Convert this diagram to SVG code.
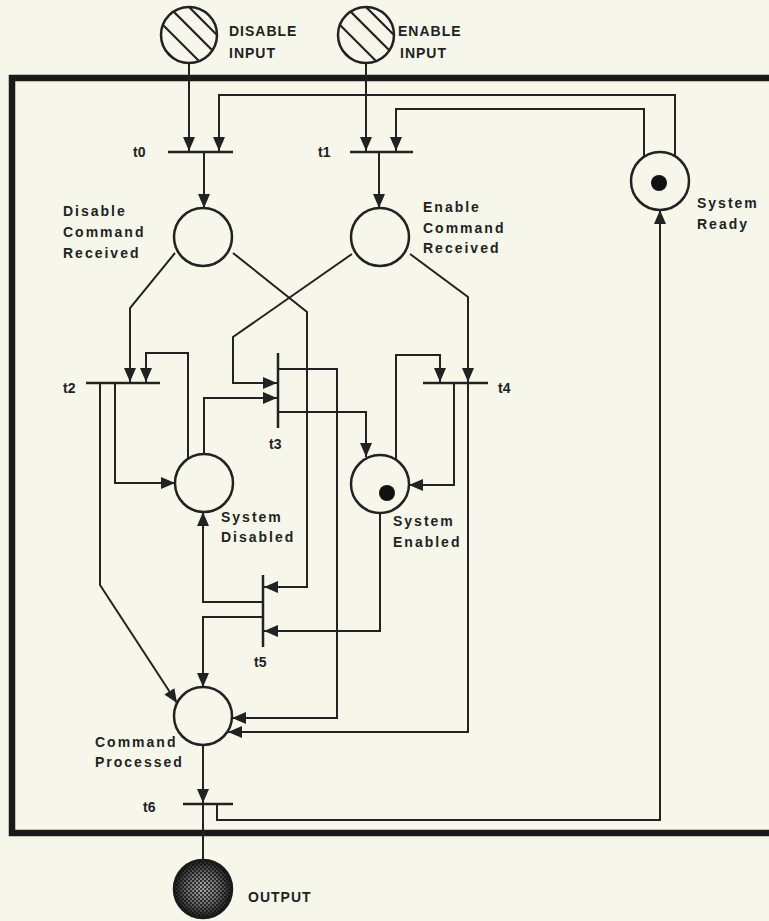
<svg xmlns="http://www.w3.org/2000/svg" width="769" height="921" viewBox="0 0 769 921">
<style>
.conn{fill:none;stroke:#222;stroke-width:2;stroke-linejoin:miter}
.place{fill:none;stroke:#222;stroke-width:2.5}
.bar{stroke:#222;stroke-width:2.5;fill:none}
.hatch{stroke:#222;stroke-width:2.2}
.lbl{font-family:"Liberation Sans",Arial,sans-serif;font-weight:bold;font-size:14px;letter-spacing:2px;fill:#222}
.cap{font-family:"Liberation Sans",Arial,sans-serif;font-weight:bold;font-size:14px;letter-spacing:1px;fill:#222}
.tl{font-family:"Liberation Sans",Arial,sans-serif;font-weight:bold;font-size:14px;fill:#222}
.token{fill:#111}
</style>
<defs>
<marker id="arr" viewBox="0 0 14 12" refX="14" refY="6" markerWidth="14" markerHeight="12" markerUnits="userSpaceOnUse" orient="auto">
<path d="M0,0 L14,6 L0,12 Z" fill="#222"/>
</marker>
<clipPath id="clipDI"><circle cx="189" cy="35" r="28"/></clipPath>
<clipPath id="clipEI"><circle cx="366" cy="35" r="28"/></clipPath>
<radialGradient id="outg" cx="0.5" cy="0.5" r="0.5">
<stop offset="0" stop-color="#b0b0b0"/>
<stop offset="0.55" stop-color="#707070"/>
<stop offset="1" stop-color="#1a1a1a"/>
</radialGradient>
<pattern id="stip" width="4" height="4" patternUnits="userSpaceOnUse">
<rect x="0" y="0" width="2" height="2" fill="#111" fill-opacity="0.75"/>
<rect x="2" y="2" width="2" height="2" fill="#111" fill-opacity="0.75"/>
<rect x="2" y="0" width="1" height="1" fill="#111" fill-opacity="0.4"/>
</pattern>
</defs>
<rect x="0" y="0" width="769" height="921" fill="#f6f7ea"/>

<!-- frame -->
<rect x="12" y="78" width="780" height="755" fill="none" stroke="#1a1a1a" stroke-width="6.5"/>

<g id="connectors">
<path class="conn" d="M189,63 V151" marker-end="url(#arr)"/>
<path class="conn" d="M366,63 V151" marker-end="url(#arr)"/>
<path class="conn" d="M675,156 V95 H219 V151" marker-end="url(#arr)"/>
<path class="conn" d="M644,157 V109 H396 V151" marker-end="url(#arr)"/>
<path class="conn" d="M204,152 V208" marker-end="url(#arr)"/>
<path class="conn" d="M379,152 V208" marker-end="url(#arr)"/>
<path class="conn" d="M175,253 L130,308 V382" marker-end="url(#arr)"/>
<path class="conn" d="M233,253 L307,312 V587 H264" marker-end="url(#arr)"/>
<path class="conn" d="M352,254 L233,337 V383 H277" marker-end="url(#arr)"/>
<path class="conn" d="M410,254 L468,297 V382" marker-end="url(#arr)"/>
<path class="conn" d="M188,459 V353 H146 V382" marker-end="url(#arr)"/>
<path class="conn" d="M204,454 V398 H277" marker-end="url(#arr)"/>
<path class="conn" d="M396,460 V355 H440 V382" marker-end="url(#arr)"/>
<path class="conn" d="M115,383 V483 H175" marker-end="url(#arr)"/>
<path class="conn" d="M100,383 V585 L177,703" marker-end="url(#arr)"/>
<path class="conn" d="M278,412 H366 V457" marker-end="url(#arr)"/>
<path class="conn" d="M278,369 H337 V718 H232" marker-end="url(#arr)"/>
<path class="conn" d="M454,383 V485 H409" marker-end="url(#arr)"/>
<path class="conn" d="M468,383 V732 H228" marker-end="url(#arr)"/>
<path class="conn" d="M263,602 H203 V512" marker-end="url(#arr)"/>
<path class="conn" d="M263,617 H203 V687" marker-end="url(#arr)"/>
<path class="conn" d="M380,513 V631 H264" marker-end="url(#arr)"/>
<path class="conn" d="M203,745 V803" marker-end="url(#arr)"/>
<path class="conn" d="M217,804 V820 H660 V210" marker-end="url(#arr)"/>
<path class="conn" d="M203,804 V860"/>
</g>

<g id="disable-input">
<circle cx="189" cy="35" r="28" fill="#f6f7ea" stroke="#222" stroke-width="2.5"/>
<g clip-path="url(#clipDI)">
<line class="hatch" x1="150" y1="12" x2="200" y2="62"/>
<line class="hatch" x1="160" y1="-2" x2="214" y2="52"/>
<line class="hatch" x1="140" y1="25" x2="186" y2="71"/>
<line class="hatch" x1="176" y1="-6" x2="226" y2="44"/>
</g>
<text class="cap" x="229" y="36">DISABLE</text>
<text class="cap" x="229" y="58">INPUT</text>
</g>

<g id="enable-input">
<circle cx="366" cy="35" r="28" fill="#f6f7ea" stroke="#222" stroke-width="2.5"/>
<g clip-path="url(#clipEI)">
<line class="hatch" x1="327" y1="12" x2="377" y2="62"/>
<line class="hatch" x1="337" y1="-2" x2="391" y2="52"/>
<line class="hatch" x1="317" y1="25" x2="363" y2="71"/>
<line class="hatch" x1="353" y1="-6" x2="403" y2="44"/>
</g>
<text class="cap" x="398" y="36">ENABLE</text>
<text class="cap" x="400" y="58">INPUT</text>
</g>

<g id="t0"><line class="bar" x1="168" y1="152" x2="233" y2="152"/><text class="tl" x="133" y="157">t0</text></g>
<g id="t1"><line class="bar" x1="350" y1="152" x2="413" y2="152"/><text class="tl" x="318" y="157">t1</text></g>
<g id="t2"><line class="bar" x1="86" y1="383" x2="160" y2="383"/><text class="tl" x="63" y="393">t2</text></g>
<g id="t3"><line class="bar" x1="278" y1="353" x2="278" y2="428"/><text class="tl" x="269" y="449">t3</text></g>
<g id="t4"><line class="bar" x1="423" y1="383" x2="488" y2="383"/><text class="tl" x="498" y="393">t4</text></g>
<g id="t5"><line class="bar" x1="263" y1="575" x2="263" y2="647"/><text class="tl" x="254" y="667">t5</text></g>
<g id="t6"><line class="bar" x1="183" y1="804" x2="233" y2="804"/><text class="tl" x="143" y="812">t6</text></g>

<g id="system-ready">
<circle class="place" cx="660" cy="181" r="29"/>
<circle class="token" cx="659" cy="183" r="8"/>
<text class="lbl" x="697" y="208">System</text>
<text class="lbl" x="697" y="229">Ready</text>
</g>

<g id="disable-command-received">
<circle class="place" cx="203" cy="237" r="29"/>
<text class="lbl" x="63" y="216">Disable</text>
<text class="lbl" x="63" y="237">Command</text>
<text class="lbl" x="63" y="258">Received</text>
</g>

<g id="enable-command-received">
<circle class="place" cx="380" cy="237" r="29"/>
<text class="lbl" x="423" y="212">Enable</text>
<text class="lbl" x="423" y="233">Command</text>
<text class="lbl" x="423" y="253">Received</text>
</g>

<g id="system-disabled">
<circle class="place" cx="204" cy="483" r="29"/>
<text class="lbl" x="221" y="522">System</text>
<text class="lbl" x="221" y="542">Disabled</text>
</g>

<g id="system-enabled">
<circle class="place" cx="380" cy="484" r="29"/>
<circle class="token" cx="387" cy="493" r="8"/>
<text class="lbl" x="393" y="526">System</text>
<text class="lbl" x="393" y="547">Enabled</text>
</g>

<g id="command-processed">
<circle class="place" cx="203" cy="716" r="29"/>
<text class="lbl" x="95" y="747">Command</text>
<text class="lbl" x="95" y="767">Processed</text>
</g>

<g id="output">
<circle cx="203" cy="889" r="29" fill="url(#outg)"/>
<circle cx="203" cy="889" r="29" fill="url(#stip)" stroke="#1a1a1a" stroke-width="2.5"/>
<text class="cap" x="248" y="902">OUTPUT</text>
</g>
</svg>
